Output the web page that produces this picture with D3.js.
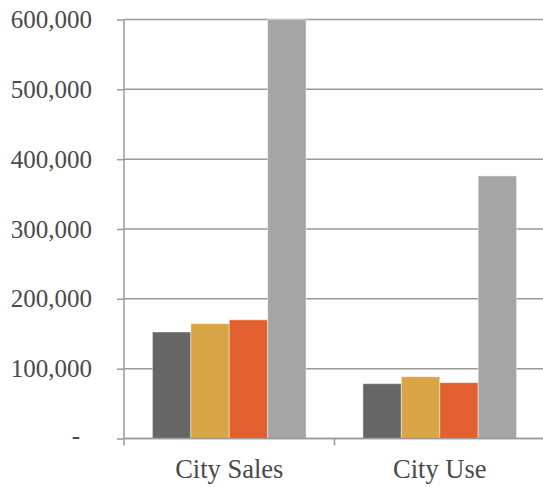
<!DOCTYPE html>
<html><head><meta charset="utf-8">
<script src="https://cdn.jsdelivr.net/npm/d3@7"></script>
<style>body{margin:0;background:#fff}svg{display:block}text{font-family:"Liberation Serif","Times New Roman",Times,serif}</style>
</head><body><svg id="c" width="543" height="487"></svg>
<script>
const categories = ["City Sales", "City Use"];
const seriesNames = ["S1", "S2", "S3", "S4"];
const seriesValues = [
  [152500, 78500],
  [164500, 88500],
  [170000, 80000],
  [600000, 376000]
];
const yTicks = [0, 100000, 200000, 300000, 400000, 500000, 600000];
const colors = ["#666666", "#D9A546", "#E2602F", "#A5A5A5"];

const svg = d3.select("#c");
const m = {l: 124, r: -2, t: 19.5, b: 48.5};
const W = 543, H = 487;
const x = d3.scaleBand().domain(categories).range([m.l, W - m.r]).paddingInner(0).paddingOuter(0);
const xs = d3.scaleBand().domain(seriesNames).range([0, x.bandwidth()]).paddingInner(0).paddingOuter(0.74);
const y = d3.scaleLinear().domain([0, 600000]).range([H - m.b, m.t]);

// gridlines
svg.append("g").selectAll("line").data(yTicks).join("line")
  .attr("x1", m.l).attr("x2", W).attr("y1", d => y(d)).attr("y2", d => y(d))
  .attr("stroke", "#9a9a9a").attr("stroke-width", 1.5);

// bars
const g = svg.append("g");
categories.forEach((c, ci) => {
  seriesNames.forEach((s, si) => {
    const v = seriesValues[si][ci];
    g.append("rect")
      .attr("x", x(c) + xs(s)).attr("width", xs.bandwidth())
      .attr("y", y(v)).attr("height", y(0) - y(v))
      .attr("fill", colors[si]).attr("stroke", "rgba(255,255,255,0.45)").attr("stroke-width", 1);
  });
});

// y axis
const ya = svg.append("g").attr("transform", `translate(${m.l},0)`)
  .call(d3.axisLeft(y).tickValues(yTicks).tickSize(7).tickPadding(25)
    .tickFormat(d => d === 0 ? "-" : d3.format(",")(d)));
ya.attr("font-family", null).attr("font-size", null);
ya.select(".domain").attr("stroke", "#9a9a9a").attr("stroke-width", 1.5).attr("d", `M0,${y(600000)}V${y(0)}`);
ya.selectAll(".tick line").attr("stroke", "#9a9a9a").attr("stroke-width", 1.5);
ya.selectAll(".tick text").attr("font-size", 25)
  .attr("fill", "#4a4a4a").attr("dy", "0.32em");
ya.selectAll(".tick text").filter(d => d === 0).attr("x", -44).attr("dy", "0.2em");

// x axis
const xa = svg.append("g").attr("transform", `translate(0,${y(0)})`);
xa.append("line").attr("x1", m.l).attr("x2", W).attr("stroke", "#9a9a9a").attr("stroke-width", 1.5);
const bounds = [x(categories[0]), x(categories[1]), x(categories[1]) + x.bandwidth()];
xa.selectAll("line.t").data(bounds).join("line").attr("class", "t")
  .attr("x1", d => d).attr("x2", d => d).attr("y1", 0).attr("y2", 7)
  .attr("stroke", "#9a9a9a").attr("stroke-width", 1.5);
xa.selectAll("text").data(categories).join("text")
  .attr("x", d => x(d) + x.bandwidth() / 2).attr("y", 39.5)
  .attr("text-anchor", "middle").attr("font-size", 26.5)
  .attr("fill", "#4a4a4a").text(d => d);
</script></body></html>
